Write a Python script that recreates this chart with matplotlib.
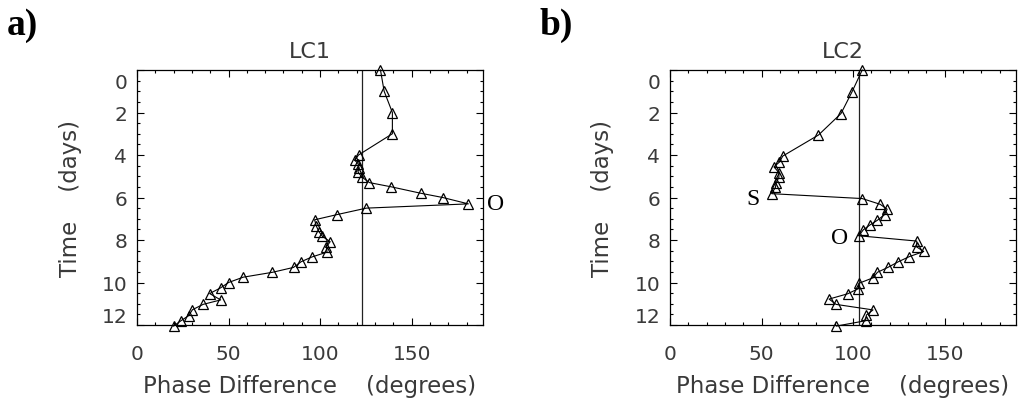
import matplotlib
matplotlib.use('Agg')
import matplotlib.pyplot as plt
from matplotlib.ticker import MultipleLocator, FixedLocator
import matplotlib.transforms as mtransforms

# ---------------- data ----------------
t_lc1 = [0.0, 1.0, 2.0, 3.0, 4.0, 4.25, 4.4, 4.6, 4.8, 5.05, 5.3, 5.5, 5.8, 6.0,
         6.3, 6.5, 6.8, 7.05, 7.35, 7.6, 7.83, 8.08, 8.32, 8.57, 8.8, 9.02, 9.29,
         9.52, 9.75, 10.0, 10.25, 10.52, 10.82, 11.03, 11.28, 11.56, 11.8, 12.05]
phase_lc1 = [133, 135, 139.5, 139.5, 121, 119, 120.7, 121.3, 120.7, 123, 127, 139,
             155, 167, 181, 125.3, 109.5, 97, 98, 99.3, 101.3, 105.5, 103.5, 103.8,
             95.5, 89.7, 85.5, 74, 58, 50, 45.7, 39.7, 45.7, 36.1, 30.3, 28.2, 24, 20]

t_lc2 = [0.0, 1.05, 2.05, 3.06, 4.05, 4.33, 4.56, 4.83, 5.05, 5.3, 5.52, 5.82,
         6.05, 6.32, 6.55, 6.8, 7.07, 7.3, 7.52, 7.8, 8.05, 8.33, 8.54, 8.78,
         9.02, 9.29, 9.52, 9.78, 10.04, 10.29, 10.53, 10.78, 11.03, 11.29, 11.53,
         11.8, 12.05]
phase_lc2 = [105, 99.3, 93.4, 81.1, 61.6, 59.8, 56.8, 59.5, 59.5, 58, 57.6, 55.5,
             105, 114.8, 118.6, 117.3, 113.3, 109.1, 105.6, 103.1, 134.8, 134.8,
             138.6, 130.8, 124.8, 119, 113.3, 110.9, 103.1, 102.9, 97.1, 86.9, 90.7,
             110.9, 107.3, 106.8, 90.9]

ref_lc1 = 123.0
ref_lc2 = 103.0

titles = ['LC1', 'LC2']
panel_labels = ['a)', 'b)']
xticks = [0, 50, 100, 150]
yticks = [0, 2, 4, 6, 8, 10, 12]
annot_lc1 = [('O', 196.0, 6.27)]
annot_lc2 = [('S', 45.4, 6.07), ('O', 92.7, 7.87)]

# ---------------- figure ----------------
W, H = 1026, 402
fig = plt.figure(figsize=(W / 100, H / 100), dpi=100)

tick_font = dict(family='DejaVu Sans', size=14.5, color='#3a3a3a')
lab_font = dict(family='DejaVu Sans', size=16.5, color='#3a3a3a')

panels = [
    (137, t_lc1, phase_lc1, ref_lc1, annot_lc1, titles[0], panel_labels[0], 7, 70),
    (670, t_lc2, phase_lc2, ref_lc2, annot_lc2, titles[1], panel_labels[1], 540, 603),
]

for left_px, t, ph, ref, annots, title, plabel, plabel_x, ylab_x in panels:
    ax = fig.add_axes([left_px / W, 1 - 326 / H, 346 / W, 255 / H])
    ax.plot(ph, t, color='black', lw=0.8, marker='^', ms=7.5, mfc='none',
            mec='black', mew=0.9, clip_on=False, zorder=3)
    ax.axvline(ref, color='#222222', lw=0.9, zorder=2)
    ax.set_xlim(0, 189)
    ax.set_ylim(12, 0)

    ax.xaxis.set_major_locator(FixedLocator(xticks))
    ax.xaxis.set_minor_locator(MultipleLocator(10))
    ax.yaxis.set_major_locator(FixedLocator(yticks))
    ax.yaxis.set_minor_locator(MultipleLocator(0.5))
    ax.set_xticklabels([str(v) for v in xticks], **tick_font)
    ax.set_yticklabels([str(v) for v in yticks], **tick_font)

    ax.tick_params(which='both', direction='in', top=True, right=True,
                   color='black', width=0.8)
    ax.tick_params(which='major', length=5)
    ax.tick_params(which='minor', length=2.5)
    ax.tick_params(axis='x', which='major', pad=14)
    ax.tick_params(axis='y', which='major', pad=7)
    for sp in ax.spines.values():
        sp.set_color('black')
        sp.set_linewidth(0.9)

    ax.set_title(title, pad=9, **dict(lab_font, size=16))
    ax.set_xlabel('Phase Difference    (degrees)', **lab_font)
    ax.xaxis.set_label_coords(0.5, (326 - 387) / 255)
    ax.xaxis.label.set_va('center')
    ax.set_ylabel('Time    (days)', **lab_font)
    ax.yaxis.set_label_coords((ylab_x - left_px) / 346, 0.5)
    ax.yaxis.label.set_va('center')

    for txt, xv, yv in annots:
        ax.text(xv, yv, txt, family='Liberation Serif', fontsize=17,
                ha='center', va='center', color='black', clip_on=False)

    # shift the end tick labels inside, as in the original
    ticks = ax.yaxis.get_major_ticks()
    dn = mtransforms.ScaledTranslation(0, -10.5 / 100, fig.dpi_scale_trans)
    up = mtransforms.ScaledTranslation(0, 10.0 / 100, fig.dpi_scale_trans)
    ticks[0].label1.set_transform(ticks[0].label1.get_transform() + dn)
    ticks[-1].label1.set_transform(ticks[-1].label1.get_transform() + up)

    fig.text(plabel_x / W, 1 - 8 / H, plabel, family='Liberation Serif',
             fontweight='bold', fontsize=27, ha='left', va='top', color='black')

fig.savefig('out.png', dpi=100)
